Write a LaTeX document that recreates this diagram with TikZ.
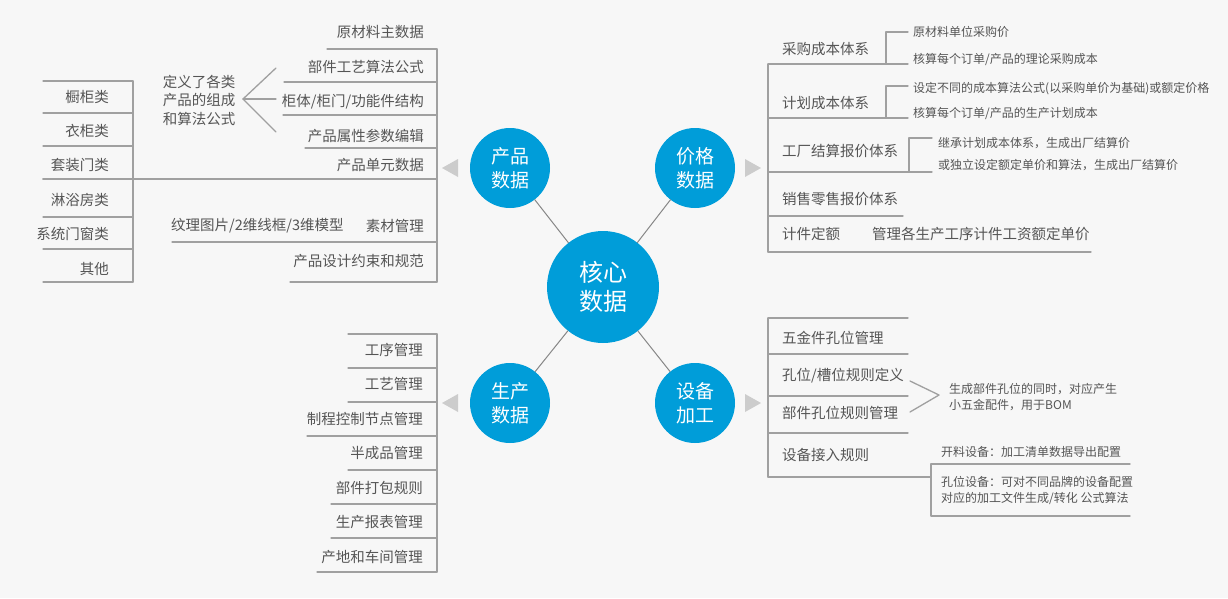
\documentclass[tikz,border=0pt]{standalone}
\usepackage{fontspec}
\newfontfamily\cjk{Noto Sans CJK SC}
\definecolor{hub}{RGB}{0,157,217}
\definecolor{ink}{RGB}{85,85,85}
\definecolor{rulegray}{RGB}{160,160,160}
\definecolor{linkgray}{RGB}{135,135,135}
\definecolor{tipgray}{RGB}{204,204,204}
\definecolor{paper}{RGB}{247,247,247}

\begin{document}
\begin{tikzpicture}[
	x=1pt,
	y=-1pt,
	line cap=round,
	line join=round,
	every node/.style={font=\cjk, text=ink, inner sep=0pt},
	core/.style={
		shape=circle,
		fill=hub,
		minimum size=112pt,
		text=white,
		align=center,
		font=\cjk\fontsize{24}{29}\selectfont
	},
	topic/.style={
		shape=circle,
		fill=hub,
		minimum size=80pt,
		text=white,
		align=center,
		font=\cjk\fontsize{19}{24}\selectfont
	},
	item/.style={font=\cjk\fontsize{14.5}{18.5}\selectfont},
	note/.style={font=\cjk\fontsize{12}{16}\selectfont, align=left},
	branch/.style={draw=rulegray, line width=1.3pt},
	link/.style={draw=linkgray, line width=1pt},
	tip/.style={fill=tipgray}
	]
	\fill[paper] (0,0) rectangle (1228,598);

	\node [core] (core) at (603,287) {核心\\数据};
	\node [topic] (product) at (510,168) {产品\\数据};
	\node [topic] (price) at (695,168) {价格\\数据};
	\node [topic] (production) at (510,403) {生产\\数据};
	\node [topic] (device) at (695,403) {设备\\加工};
	\foreach \t in {product, price, production, device}{
		\draw [link] (core) -- (\t);
	}
	\foreach \x/\y/\d in {458/168/-1, 458/403/-1, 745/168/1, 745/403/1}{
		\fill [tip] (\x,\y-9) -- (\x+16*\d,\y) -- (\x,\y+9) -- cycle;
	}

	\begin{scope}[local bounding box=productdata]
	\draw [branch] (437,49) -- (437,282);
	\foreach \ty/\ly/\lx/\txt [count=\i] in
	{32/49/327/原材料主数据, 67/82/284/部件工艺算法公式, 102/115/283/{柜体/柜门/功能件结构}, 136/148/305/产品属性参数编辑, 165/179/43/产品单元数据, 226/242/172/素材管理, 261/282/290/产品设计约束和规范}{
		\node [item, anchor=east] (part-\i) at (424,\ty) {\txt};
		\draw [branch] (\lx,\ly) -- (437,\ly);
	}
	\draw [branch] (133,81) -- (133,282);
	\draw [branch] (43,81) -- (133,81);
	\foreach \ty/\ly/\txt [count=\i] in
	{97/113/橱柜类, 131/146/衣柜类, 165/179/套装门类, 200/217/淋浴房类, 234/249/系统门窗类, 269/282/其他}{
		\node [item, anchor=east] (kind-\i) at (109,\ty) {\txt};
		\draw [branch] (43,\ly) -- (133,\ly);
	}
	\node [item, align=center] (define) at (199,100) {定义了各类\\产品的组成\\和算法公式};
	\coordinate (fan) at (243,99);
	\foreach \y in {68, 99, 132}{
		\draw [branch] (fan) -- (276,\y);
	}
	\node [item, anchor=west] (assets) at (171,226) {纹理图片/2维线框/3维模型};
	\end{scope}

	\begin{scope}[local bounding box=pricedata]
	\draw [branch] (768,64) -- (768,252);
	\foreach \ty/\ly/\lx/\txt [count=\i] in
	{49/64/908/采购成本体系, 103/118/908/计划成本体系, 151/172/932/工厂结算报价体系, 199/216/903/销售零售报价体系, 234/252/1091/计件定额}{
		\node [item, anchor=west] (cost-\i) at (782,\ty) {\txt};
		\draw [branch] (768,\ly) -- (\lx,\ly);
	}
	\draw [branch] (908,32) -- (886,32) -- (886,64);
	\node [note, anchor=west] (buy-1) at (913,32) {原材料单位采购价};
	\node [note, anchor=west] (buy-2) at (913,59) {核算每个订单/产品的理论采购成本};
	\draw [branch] (908,86) -- (886,86) -- (886,118);
	\node [note, anchor=west] (plan-1) at (913,89) {设定不同的成本算法公式(以采购单价为基础)或额定价格};
	\node [note, anchor=west] (plan-2) at (913,113) {核算每个订单/产品的生产计划成本};
	\draw [branch] (932,138) -- (909,138) -- (909,172);
	\node [note, anchor=west] (factory-1) at (938,143) {继承计划成本体系，生成出厂结算价};
	\node [note, anchor=west] (factory-2) at (938,165) {或独立设定额定单价和算法，生成出厂结算价};
	\node [item, anchor=west] (piece) at (872,234) {管理各生产工序计件工资额定单价};
	\end{scope}

	\begin{scope}[local bounding box=devicedata]
	\draw [branch] (768,318) -- (768,477);
	\draw [branch] (768,318) -- (908,318);
	\foreach \ty/\ly/\lx/\txt [count=\i] in
	{338/354/908/五金件孔位管理, 376/396/908/{孔位/槽位规则定义}, 413/433/908/部件孔位规则管理, 455/477/931/设备接入规则}{
		\node [item, anchor=west] (hole-\i) at (782,\ty) {\txt};
		\draw [branch] (768,\ly) -- (\lx,\ly);
	}
	\draw [branch] (910,381) -- (939,395) -- (910,412);
	\node [note, anchor=west] (bom) at (949,397) {生成部件孔位的同时，对应产生\\小五金配件，用于BOM};
	\draw [branch] (1130,464) -- (931,464) -- (931,516) -- (1130,516);
	\node [note, anchor=west] (cutting) at (941,452) {开料设备：加工清单数据导出配置};
	\node [note, anchor=west] (drilling) at (941,490) {孔位设备：可对不同品牌的设备配置\\对应的加工文件生成/转化 公式算法};
	\end{scope}

	\begin{scope}[local bounding box=productiondata]
	\draw [branch] (437,334) -- (437,572);
	\draw [branch] (348,334) -- (437,334);
	\foreach \ty/\ly/\lx/\txt [count=\i] in
	{350/368/348/工序管理, 384/402/348/工艺管理, 419/436/307/制程控制节点管理, 453/470/348/半成品管理, 488/504/331/部件打包规则, 522/538/331/生产报表管理, 557/572/317/产地和车间管理}{
		\node [item, anchor=east] (step-\i) at (423,\ty) {\txt};
		\draw [branch] (\lx,\ly) -- (437,\ly);
	}
	\end{scope}
\end{tikzpicture}
\end{document}
